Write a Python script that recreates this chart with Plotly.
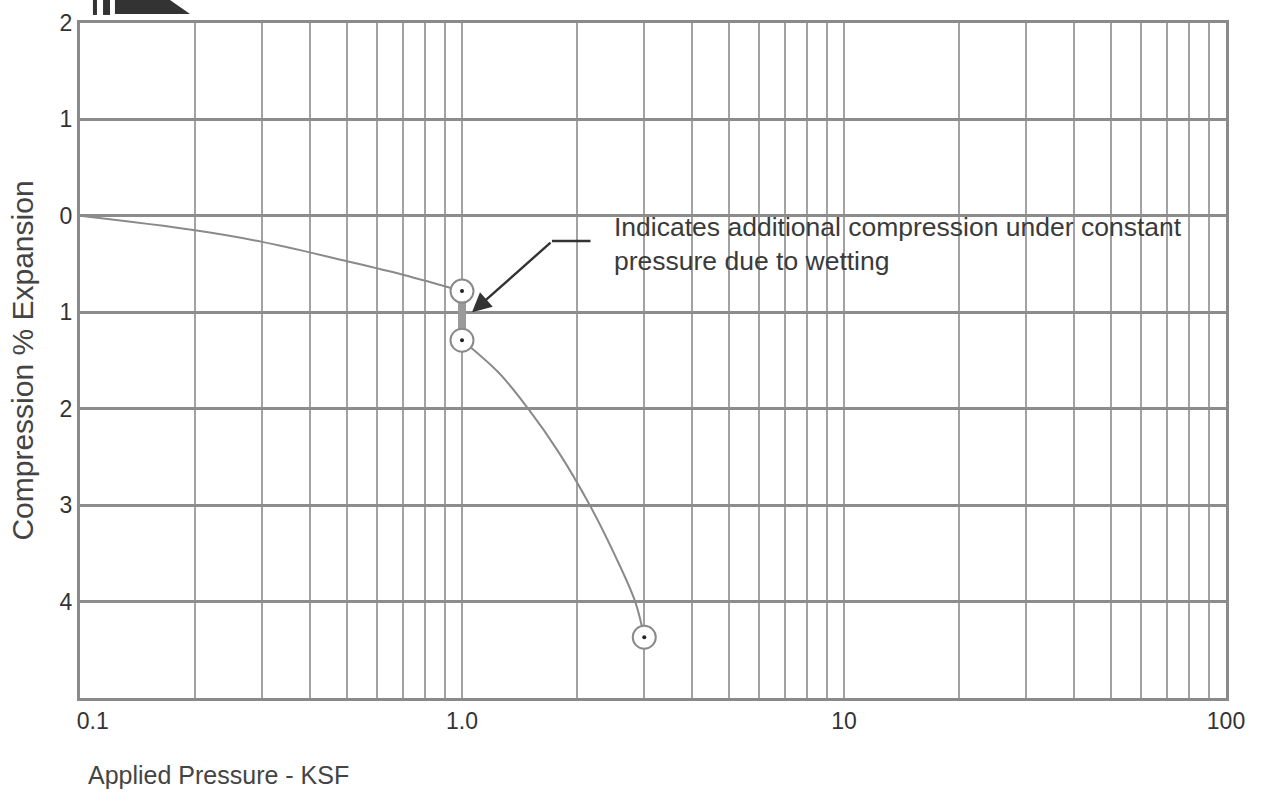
import plotly.graph_objects as go

# ---- data ----
pressure_seating = [0.1, 0.2, 0.3, 0.5, 0.7, 1.0]
compression_seating = [0.0, 0.15, 0.27, 0.47, 0.61, 0.78]

pressure_wetted = [1.0, 1.25, 1.49, 1.79, 2.16, 2.5, 2.84, 3.0]
compression_wetted = [1.29, 1.63, 2.0, 2.45, 3.0, 3.5, 4.0, 4.37]

reading_pressure = [1.0, 1.0, 3.0]
reading_compression = [0.78, 1.29, 4.37]

wetting_pressure = [1.0, 1.0]
wetting_compression = [0.78, 1.29]

x_tick_values = [m * 10 ** e for e in (-1, 0, 1) for m in range(1, 10)] + [100]
x_tick_labels = {0.1: "\u00a0\u00a0\u00a0\u00a00.1", 1: "1.0", 10: "10", 100: "100"}
y_tick_values = [-2, -1, 0, 1, 2, 3, 4]
y_tick_labels = ["2", "1", "0", "1", "2", "3", "4"]

FONT = "Liberation Sans, Arial, Helvetica, sans-serif"
CURVE = "#8a8a8a"
DARK = "#333333"

fig = go.Figure()

fig.add_trace(go.Scatter(x=pressure_seating, y=compression_seating, mode="lines",
                         line=dict(color=CURVE, width=2, shape="spline", smoothing=1.0),
                         hoverinfo="skip"))
fig.add_trace(go.Scatter(x=pressure_wetted, y=compression_wetted, mode="lines",
                         line=dict(color=CURVE, width=2, shape="spline", smoothing=1.0),
                         hoverinfo="skip"))
fig.add_trace(go.Scatter(x=wetting_pressure, y=wetting_compression, mode="lines",
                         line=dict(color="#9a9a9a", width=8), hoverinfo="skip"))
fig.add_trace(go.Scatter(x=reading_pressure, y=reading_compression, mode="markers",
                         marker=dict(symbol="circle", size=23, color="white",
                                     line=dict(color="#8a8a8a", width=2)),
                         hoverinfo="skip"))
fig.add_trace(go.Scatter(x=reading_pressure, y=reading_compression, mode="markers",
                         marker=dict(symbol="circle", size=4, color="#222222"),
                         hoverinfo="skip"))

fig.update_xaxes(
    type="log", range=[-1, 2],
    tickmode="array", tickvals=x_tick_values,
    ticktext=[x_tick_labels.get(round(v, 6), "") for v in x_tick_values],
    showgrid=True, gridcolor="#a2a2a2", gridwidth=1.8,
    showline=True, linecolor="#8a8a8a", linewidth=3, mirror=True,
    ticks="", ticklabelstandoff=0,
    tickfont=dict(family=FONT, size=23, color=DARK),
    zeroline=False, automargin=False,
)
fig.update_yaxes(
    range=[5, -2],
    tickmode="array", tickvals=y_tick_values, ticktext=y_tick_labels,
    showgrid=True, gridcolor="#8c8c8c", gridwidth=2.5,
    showline=True, linecolor="#8a8a8a", linewidth=3, mirror=True,
    ticks="", ticklabelstandoff=0,
    tickfont=dict(family=FONT, size=23, color=DARK),
    zeroline=False, automargin=False,
    title=dict(text="Compression % Expansion", standoff=18,
               font=dict(family=FONT, size=30, color="#444444")),
)


def px(xp, yp):
    return (xp - 80) / 1146, (698 - yp) / 675


def path(points):
    pts = [px(a, b) for a, b in points]
    return "M " + " L ".join(f"{a:.4f},{b:.4f}" for a, b in pts) + " Z"


shapes = []
for poly in ([(93, 0), (97, 0), (97, 15), (93, 15)],
             [(103, 0), (110, 0), (110, 15), (103, 15)],
             [(115, 0), (170, 0), (190, 14), (115, 14)]):
    shapes.append(dict(type="path", xref="paper", yref="paper", path=path(poly),
                       fillcolor="#333333", line=dict(width=0), layer="above"))

annotations = [
    dict(xref="x", yref="y", x=0.0262, y=1.0, ax=80, ay=-71, text="",
         showarrow=True, arrowhead=2, arrowsize=1.6, arrowwidth=2.4, arrowcolor=DARK),
    dict(xref="x", yref="y", x=0.2356, y=0.261, ax=40, ay=0, text="",
         showarrow=True, arrowhead=0, arrowwidth=2.4, arrowcolor=DARK),
    dict(xref="x", yref="y", x=0.3927, y=-0.06, xanchor="left", yanchor="top",
         align="left", showarrow=False,
         text="Indicates additional compression under constant<br>pressure due to wetting",
         font=dict(family=FONT, size=26.5, color="#3a3a3a")),
    dict(xref="paper", yref="paper", x=0.005, y=-0.09, xanchor="left", yanchor="top",
         showarrow=False, text="Applied Pressure - KSF",
         font=dict(family=FONT, size=25, color="#444444")),
]

fig.update_layout(
    width=1272, height=796,
    margin=dict(l=80, r=46, t=23, b=98),
    paper_bgcolor="white", plot_bgcolor="white",
    showlegend=False,
    shapes=shapes, annotations=annotations,
)

fig.write_html("out.html")
